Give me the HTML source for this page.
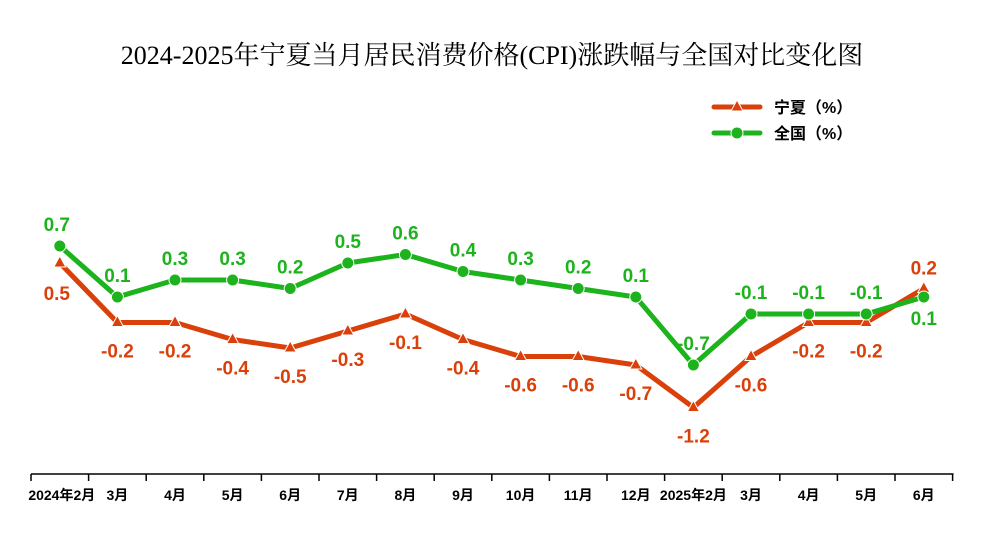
<!DOCTYPE html>
<html><head><meta charset="utf-8"><style>
body{margin:0;background:#fff;}
svg{display:block;font-family:"Liberation Sans","Noto Sans CJK SC",sans-serif;}
</style></head><body>
<svg id="c" width="984" height="533">
<text x="492" y="64" text-anchor="middle" font-family="'Liberation Serif','Noto Serif CJK SC',serif" font-size="26" fill="#000">2024-2025年宁夏当月居民消费价格(CPI)涨跌幅与全国对比变化图</text>
<g>
<g>
<line x1="714" y1="107" x2="760" y2="107" stroke="#d9400a" stroke-width="5" stroke-linecap="round"/>
<polygon points="737,100 731,111 743,111" fill="#d9400a" stroke="#fff" stroke-width="1"/>
<text x="774" y="113" font-size="16" font-weight="bold" fill="#000">宁夏（%）</text></g>
<g>
<line x1="714" y1="133" x2="760" y2="133" stroke="#1db31d" stroke-width="5" stroke-linecap="round"/>
<circle cx="737" cy="133" r="6" fill="#1db31d" stroke="#fff" stroke-width="1"/>
<text x="774" y="139" font-size="16" font-weight="bold" fill="#000">全国（%）</text></g>
</g>
<g id="axis"></g>
<g id="series"></g>
</svg>
<script>
const categories=["2024年2月","3月","4月","5月","6月","7月","8月","9月","10月","11月","12月","2025年2月","3月","4月","5月","6月"];
const ningxia=[0.5,-0.2,-0.2,-0.4,-0.5,-0.3,-0.1,-0.4,-0.6,-0.6,-0.7,-1.2,-0.6,-0.2,-0.2,0.2];
const national=[0.7,0.1,0.3,0.3,0.2,0.5,0.6,0.4,0.3,0.2,0.1,-0.7,-0.1,-0.1,-0.1,0.1];
const NS="http://www.w3.org/2000/svg";
const x0=31,step=57.6,axisY=474;
function xs(i){return x0+step*(i+0.5);}
function ys(v){return 305.5-85*v;}
function mk(t,a,p){const e=document.createElementNS(NS,t);for(const k in a)e.setAttribute(k,a[k]);p.appendChild(e);return e;}
const ax=document.getElementById('axis');
let l=mk('line',{x1:x0,y1:axisY,x2:x0+step*categories.length+1,y2:axisY,stroke:'#000','stroke-width':1.5},ax);


for(let i=0;i<=categories.length;i++){
 const t=mk('line',{x1:x0+step*i,y1:axisY,x2:x0+step*i,y2:axisY+7,stroke:'#000','stroke-width':1.5},ax);
 
 
}
categories.forEach((c,i)=>{
 let x=xs(i);
 if(i===0)x=x0+step*0.5+2;
 const t=mk('text',{x:x,y:500,'text-anchor':'middle','font-size':14,'font-weight':'bold',fill:'#000'},ax);
 t.textContent=c;
 
 
});
const sg=document.getElementById('series');
function draw(vals,color,name,marker,labelPos){
 const pts=vals.map((v,i)=>xs(i)+','+ys(v)).join(' ');
 const pl=mk('polyline',{points:pts,fill:'none',stroke:color,'stroke-width':5,'stroke-linejoin':'round'},sg);
 
 
 vals.forEach((v,i)=>{
  const x=xs(i),y=ys(v);let m;
  if(marker==='tri')m=mk('polygon',{points:`${x},${y-7} ${x-6},${y+4} ${x+6},${y+4}`,fill:color,stroke:'#fff','stroke-width':1},sg);
  else m=mk('circle',{cx:x,cy:y,r:6,fill:color,stroke:'#fff','stroke-width':1},sg);
  
  
  const dy=labelPos(i);
  const t=mk('text',{x:x+(i===0?-3:0),y:y+dy,'text-anchor':'middle','font-size':19,'font-weight':'bold',fill:color},sg);
  t.textContent=v.toFixed(1);
  
  
 });
}
draw(ningxia,'#d9400a','ningxia','tri',function(i){return i===15?-14:i===0?37:35;});
draw(national,'#1db31d','national','circ',function(i){return i===15?28:-15;});
</script>
</body></html>
